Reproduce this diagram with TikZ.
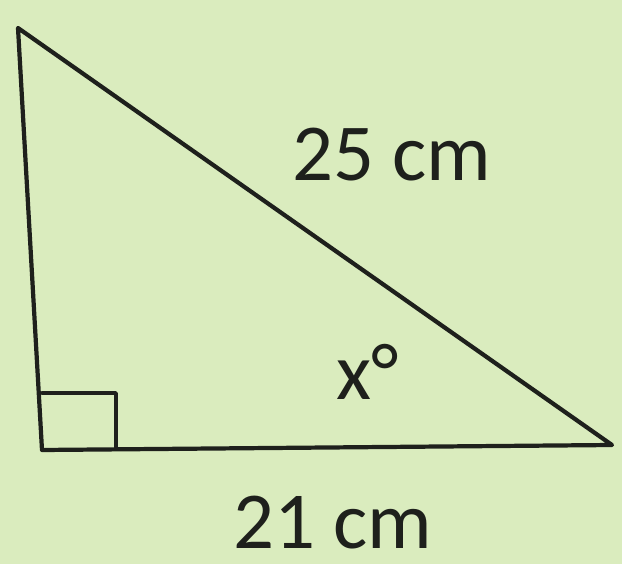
\documentclass[tikz,border=0pt]{standalone}
\usepackage{fontspec}
\setmainfont{Carlito}
\definecolor{bg}{RGB}{218,236,190}
\definecolor{ink}{RGB}{30,32,28}
\tikzset{
  edge/.style={draw=ink, line width=2.4pt, line join=round, line cap=round},
  lbl/.style={text=ink, font=\fontsize{46}{52}\selectfont, inner sep=0pt}
}
\begin{document}
\begin{tikzpicture}[x=0.02cm,y=-0.02cm]
\fill[bg] (0,0) rectangle (622,564);
\useasboundingbox (0,0) rectangle (622,564);
\coordinate (A) at (18,28);
\coordinate (B) at (42,450);
\coordinate (C) at (612,445);
\coordinate (R1) at (42,393);
\coordinate (R2) at (116,393);
\coordinate (R3) at (116,449);
\draw[edge] (A) -- (B) -- (C) -- cycle;
\draw[edge, line width=2pt] (R1) -- (R2) -- (R3);
\node[lbl] (hyp) at (392,155) {25 cm};
\node[lbl] (ang) at (368,372) {x°};
\node[lbl] (base) at (333,523) {21 cm};
\end{tikzpicture}
\end{document}
